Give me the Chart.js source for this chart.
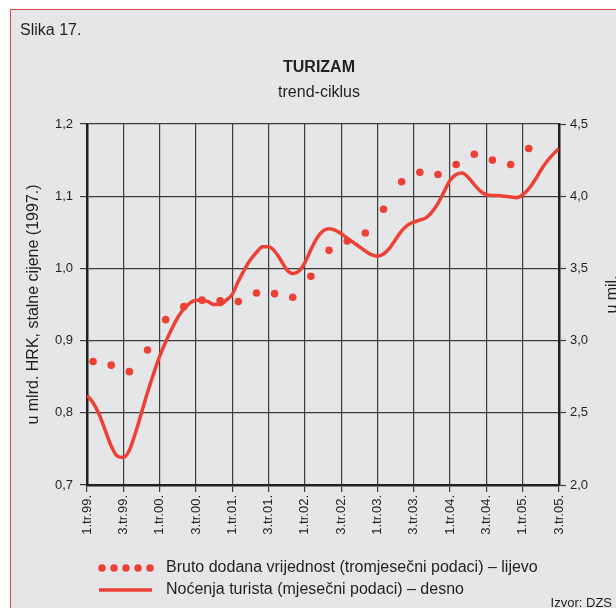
<!DOCTYPE html>
<html>
<head>
<meta charset="utf-8">
<title>Turizam - trend-ciklus</title>
<script src="https://cdn.jsdelivr.net/npm/chart.js@4.4.1/dist/chart.umd.min.js"></script>
<style>
  html, body { margin: 0; padding: 0; background: #fff; overflow: hidden; }
  #frame { position: absolute; left: 10px; top: 9px; width: 640px; height: 640px; background: #e5e6e8; border: 1.5px solid #e2483d; }
  #chart { position: absolute; left: 0; top: 0; }
</style>
</head>
<body>
<div id="frame"></div>
<canvas id="chart" width="616" height="608"></canvas>
<script>
// oznake na x osi (svakih 6 mjeseci)
const tickLabels = ['1.tr.99.', '3.tr.99.', '1.tr.00.', '3.tr.00.', '1.tr.01.', '3.tr.01.', '1.tr.02.',
  '3.tr.02.', '1.tr.03.', '3.tr.03.', '1.tr.04.', '3.tr.04.', '1.tr.05.', '3.tr.05.'];

// Bruto dodana vrijednost, tromjesečno od 1.tr.99. do 1.tr.05. (mlrd. HRK)
const bdv = [0.871, 0.866, 0.857, 0.887, 0.929, 0.947, 0.956, 0.955, 0.954, 0.966, 0.965, 0.960,
  0.989, 1.025, 1.038, 1.049, 1.082, 1.120, 1.133, 1.130, 1.144, 1.158, 1.150, 1.144, 1.166];

// Noćenja turista, mjesečno od sij. 1999. do srp. 2005. (mil.)
const nocenja = [2.62, 2.57, 2.49, 2.38, 2.27, 2.20, 2.19, 2.24, 2.36, 2.50, 2.64, 2.77,
  2.89, 2.99, 3.08, 3.16, 3.22, 3.26, 3.28, 3.28, 3.27, 3.25, 3.25, 3.28,
  3.32, 3.41, 3.49, 3.56, 3.61, 3.65, 3.65, 3.62, 3.56, 3.49, 3.465, 3.48,
  3.54, 3.63, 3.71, 3.76, 3.775, 3.765, 3.74, 3.71, 3.68, 3.65, 3.62, 3.595,
  3.585, 3.60, 3.64, 3.70, 3.76, 3.80, 3.82, 3.835, 3.85, 3.89, 3.95, 4.03,
  4.11, 4.15, 4.16, 4.13, 4.08, 4.035, 4.01, 4.005, 4.005, 4.0, 3.995, 3.99,
  4.01, 4.05, 4.11, 4.18, 4.24, 4.29, 4.33];

const RED = '#ee4136';
const INK = '#231f20';
const FONT = '"Liberation Sans", Arial, Helvetica, sans-serif';

Chart.defaults.font.family = FONT;
Chart.defaults.color = INK;

// tromjesečni podatak stoji na srednjem mjesecu tromjesečja
const bdvPoints = bdv.map((v, i) => ({ x: i * 3 + 1, y: v }));
const nocenjaPoints = nocenja.map((v, i) => ({ x: i, y: v }));

const gridLine = { color: '#3c3c3c', lineWidth: 1.2, tickLength: 7, tickColor: '#3c3c3c', tickWidth: 1.2 };
const axisLine = { color: INK, width: 2.5 };
const comma = (v) => v.toFixed(1).replace('.', ',');

// tekstovi izvan grafa + legenda
const paperText = {
  id: 'paperText',
  afterDraw(chart) {
    const { ctx, chartArea } = chart;
    const ds = chart.data.datasets;
    ctx.save();
    ctx.fillStyle = INK;
    ctx.font = '16px ' + FONT;
    ctx.fillText('Slika 17.', 20, 34.5);

    ctx.save();
    ctx.translate(613, (chartArea.top + chartArea.bottom) / 2 - 10);
    ctx.rotate(-Math.PI / 2);
    ctx.textAlign = 'center';
    ctx.textBaseline = 'middle';
    ctx.fillText('u mil.', 0, 0);
    ctx.restore();

    // legenda
    ctx.fillStyle = RED;
    for (let k = 0; k < 5; k++) {
      ctx.beginPath();
      ctx.arc(102 + k * 12, 568, 3.8, 0, Math.PI * 2);
      ctx.fill();
    }
    ctx.strokeStyle = RED;
    ctx.lineWidth = 3.5;
    ctx.beginPath();
    ctx.moveTo(99, 590);
    ctx.lineTo(152, 590);
    ctx.stroke();

    ctx.fillStyle = INK;
    ctx.font = '16px ' + FONT;
    ctx.textBaseline = 'middle';
    ctx.fillText(ds[0].label, 166, 568);
    ctx.fillText(ds[1].label, 166, 590);

    ctx.font = '13px ' + FONT;
    ctx.textAlign = 'right';
    ctx.textBaseline = 'alphabetic';
    ctx.fillText('Izvor: DZS', 612, 606.5);
    ctx.restore();
  }
};

new Chart(document.getElementById('chart'), {
  type: 'line',
  data: {
    datasets: [
      {
        label: 'Bruto dodana vrijednost (tromjesečni podaci) – lijevo',
        data: bdvPoints,
        yAxisID: 'y',
        showLine: false,
        pointRadius: 3.8,
        pointBorderWidth: 0,
        pointBackgroundColor: RED
      },
      {
        label: 'Noćenja turista (mjesečni podaci) – desno',
        data: nocenjaPoints,
        yAxisID: 'y1',
        borderColor: RED,
        borderWidth: 3.5,
        pointRadius: 0,
        cubicInterpolationMode: 'monotone'
      }
    ]
  },
  options: {
    responsive: false,
    animation: false,
    devicePixelRatio: 1,
    layout: { padding: { left: 22, right: 0, top: 40, bottom: 73 } },
    plugins: {
      legend: { display: false },
      tooltip: { enabled: false },
      title: {
        display: true,
        text: 'TURIZAM',
        color: INK,
        font: { size: 16, weight: 'bold' },
        padding: { top: 18, bottom: 0 }
      },
      subtitle: {
        display: true,
        text: 'trend-ciklus',
        color: INK,
        font: { size: 16 },
        padding: { top: 6, bottom: 21.6 }
      }
    },
    scales: {
      x: {
        type: 'linear',
        min: 0,
        max: 78,
        afterFit: (s) => { s.height = 50; },
        ticks: {
          stepSize: 6,
          autoSkip: false,
          minRotation: 90,
          maxRotation: 90,
          padding: 3,
          font: { size: 13 },
          callback: (v) => tickLabels[v / 6]
        },
        grid: gridLine,
        border: axisLine
      },
      y: {
        position: 'left',
        min: 0.7,
        max: 1.2,
        afterFit: (s) => { s.width = 65; },
        ticks: { stepSize: 0.1, padding: 7, font: { size: 13 }, callback: comma },
        grid: gridLine,
        border: axisLine,
        title: {
          display: true,
          text: 'u mlrd. HRK, stalne cijene (1997.)',
          font: { size: 16 },
          padding: { top: 2.4 }
        }
      },
      y1: {
        position: 'right',
        min: 2,
        max: 4.5,
        afterFit: (s) => { s.width = 57; },
        ticks: { stepSize: 0.5, padding: 4, font: { size: 13 }, callback: comma },
        grid: { drawOnChartArea: false, tickLength: 7, tickColor: '#3c3c3c', tickWidth: 1.2 },
        border: axisLine
      }
    }
  },
  plugins: [paperText]
});
</script>
</body>
</html>
